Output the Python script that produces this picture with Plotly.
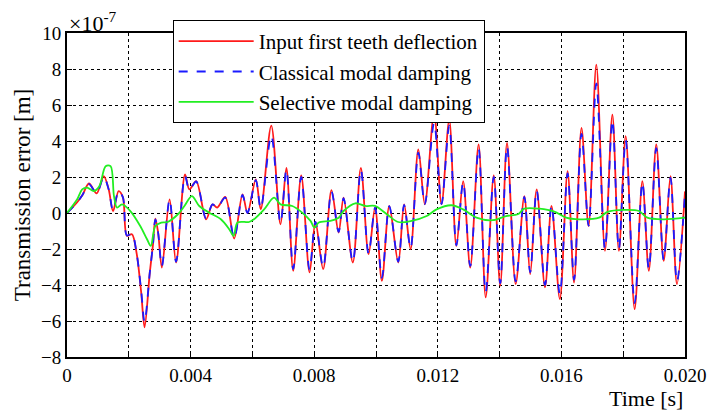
import plotly.graph_objects as go

# Transmission error time histories, values in units of 1e-7 m, time in ms
t_input = [0, 0.33, 0.5, 0.71, 0.96, 1.19, 1.35, 1.49, 1.67, 1.81, 1.94, 2.1, 2.25, 2.4, 2.51,
           2.68, 2.78, 2.86, 2.95, 3.07, 3.32, 3.53, 3.82, 3.96, 4.18, 4.5, 4.71, 4.86, 5.12,
           5.41, 5.68, 5.84, 6.11, 6.27, 6.61, 6.91, 7.1, 7.32, 7.58, 7.85, 8.04, 8.29, 8.56,
           8.79, 8.95, 9.25, 9.51, 9.76, 9.97, 10.19, 10.43, 10.72, 10.91, 11.12, 11.37, 11.58,
           11.88, 12.12, 12.37, 12.6, 12.82, 13.05, 13.32, 13.55, 13.81, 14.02, 14.24, 14.52,
           14.8, 14.99, 15.2, 15.47, 15.68, 15.95, 16.2, 16.41, 16.65, 16.88, 17.13, 17.41,
           17.65, 17.86, 18.08, 18.37, 18.62, 18.83, 19.07, 19.31, 19.53, 19.74, 20.0]

input_deflection = [0, 0.6, 1.0, 1.64, 1.09, 2.05, 1.3, 0.1, 1.22, 0.87, -1.27, -1.18, -2.2, -4.4, -6.35,
                    -3.3, -1.8, -0.31, -1.1, -3.03, 0.76, -2.75, 2.14, 1.31, 1.77, -0.35, 0.48, 0.3, 0.89,
                    -1.42, 1.04, 0.0, 1.87, 0.2, 4.85, -0.63, 2.51, -3.21, 2.09, -3.3, -0.5, -3.12, 1.27,
                    -1.09, 0.85, -2.75, 2.51, -2.29, 0.3, -3.77, 0.39, -2.75, 0.48, -2.0, 3.53, 0.48,
                    5.56, 0.48, 5.19, -1.83, 1.77, -3.03, 3.81, -4.69, 2.09, -4.04, 3.9, -3.95,
                    0.94, -3.4, 1.31, -4.13, 0.39, -4.78, 2.33, -3.86, 4.73, -0.72, 8.24, -2.1,
                    5.47, -2.1, 4.27, -5.34, 1.77, -3.21, 3.81, -2.66, 2.05, -3.95, 1.2]

classical_damping = [0, 0.6, 1.0, 1.6, 1.1, 2.0, 1.3, 0.15, 1.2, 0.87, -1.25, -1.15, -2.2, -4.3, -6.05,
                     -3.3, -1.8, -0.35, -1.1, -2.95, 0.75, -2.7, 2.05, 1.3, 1.75, -0.3, 0.48, 0.3, 0.85,
                     -1.38, 1.0, 0.0, 1.82, 0.25, 4.3, -0.55, 2.4, -3.1, 2.0, -3.15, -0.5, -3.0, 1.2,
                     -1.05, 0.82, -2.7, 2.4, -2.25, 0.3, -3.6, 0.38, -2.7, 0.45, -1.95, 3.35, 0.5,
                     5.0, 0.5, 4.85, -1.8, 1.7, -2.95, 3.6, -4.4, 2.0, -3.9, 3.7, -3.8,
                     0.9, -3.3, 1.25, -4.0, 0.4, -4.5, 2.2, -3.7, 4.4, -0.7, 7.2, -2.0,
                     5.15, -2.0, 4.05, -5.0, 1.7, -3.1, 3.6, -2.6, 1.95, -3.8, 1.1]

t_selective = [0, 0.33, 0.49, 0.65, 0.87, 1.05, 1.25, 1.41, 1.52, 1.62, 1.78, 2.05, 2.37, 2.59, 2.71,
               2.86, 3.05, 3.26, 3.59, 3.8, 4.04, 4.28, 4.6, 4.98, 5.25, 5.39, 5.52, 5.89, 6.05,
               6.38, 6.7, 6.91, 7.29, 7.61, 7.88, 8.01, 8.15, 8.52, 8.79, 8.95, 9.33, 9.65, 9.97,
               10.35, 10.72, 11.15, 11.64, 11.96, 12.44, 12.82, 13.25, 13.78, 14.21, 14.59, 14.8,
               15.29, 15.77, 16.15, 16.58, 17.22, 17.49, 18.03, 18.51, 18.78, 19.31, 20.0]

selective_damping = [0, 0.76, 1.31, 1.41, 1.22, 1.5, 2.6, 2.6, 0.94, 0.3, 0.48, 0.11, -0.72, -1.46, -1.83,
                     -0.72, -0.53, -0.5, -0.07, 0.39, 0.94, 0.39, 0.02, -0.35, -0.9, -1.27, -0.53, -0.5, -0.35,
                     0.2, 0.85, 0.48, 0.39, 0.02, -0.44, -0.81, -0.53, -0.44, -0.26, 0.11, 0.54, 0.39, 0.39,
                     -0.07, -0.5, -0.44, -0.17, 0.2, 0.43, 0.2, -0.26, -0.4, -0.17, -0.07, 0.24,
                     0.24, 0.08, -0.26, -0.35, -0.26, 0.06, 0.17, 0.11, -0.26, -0.35, -0.26]

x_tickvals = [0, 0.004, 0.008, 0.012, 0.016, 0.020]
x_ticktext = ["0", "0.004", "0.008", "0.012", "0.016", "0.020"]
y_tickvals = [-8, -6, -4, -2, 0, 2, 4, 6, 8, 10]

FONT = "Liberation Serif"


def to_s(ms):
    return [v / 1000.0 for v in ms]


fig = go.Figure()
fig.add_trace(go.Scatter(x=to_s(t_input), y=input_deflection, mode="lines",
                         name="Input first teeth deflection",
                         line=dict(color="#ff1a1a", width=1.8, shape="spline", smoothing=0.9)))
fig.add_trace(go.Scatter(x=to_s(t_input), y=classical_damping, mode="lines",
                         name="Classical modal damping",
                         line=dict(color="#1a1aff", width=1.8, dash="dash", shape="spline", smoothing=0.9)))
fig.add_trace(go.Scatter(x=to_s(t_selective), y=selective_damping, mode="lines",
                         name="Selective modal damping",
                         line=dict(color="#22ee22", width=1.8, shape="spline", smoothing=0.9)))

axis_common = dict(showline=True, linecolor="black", linewidth=2, mirror=True,
                   showgrid=True, gridcolor="black", gridwidth=1, griddash="dot",
                   zeroline=False, ticks="inside", ticklen=5, tickcolor="black",
                   tickfont=dict(family=FONT, size=19, color="black"))

fig.update_xaxes(range=[0, 0.020], tickmode="array", tickvals=x_tickvals,
                 ticktext=x_ticktext,
                 minor=dict(dtick=0.002, tick0=0, showgrid=True, gridcolor="black",
                            gridwidth=1, griddash="dot", ticks="inside", ticklen=5,
                            tickcolor="black"),
                 **axis_common)
fig.update_yaxes(range=[-8, 10], tickmode="array", tickvals=y_tickvals,
                 title=dict(text="Transmission error [m]", standoff=4,
                            font=dict(family=FONT, size=23, color="black")),
                 **axis_common)

fig.add_annotation(x=0, y=1, xref="paper", yref="paper", xanchor="left", yanchor="bottom",
                   text="×10<sup>-7</sup>", showarrow=False, yshift=-5,
                   font=dict(family=FONT, size=22, color="black"))
fig.add_annotation(x=1, y=0, xref="paper", yref="paper", xanchor="right", yanchor="top",
                   text="Time [s]", showarrow=False, yshift=-27,
                   font=dict(family=FONT, size=22, color="black"))

fig.update_layout(
    width=718, height=414,
    margin=dict(l=67, r=30, t=33, b=57),
    paper_bgcolor="white", plot_bgcolor="white",
    font=dict(family=FONT, color="black"),
    legend=dict(x=0.171, y=1.04, xanchor="left", yanchor="top",
                bgcolor="white", bordercolor="black", borderwidth=1,
                itemwidth=75, font=dict(family=FONT, size=21, color="black"),
                tracegroupgap=0),
)

fig.write_html("out.html")
